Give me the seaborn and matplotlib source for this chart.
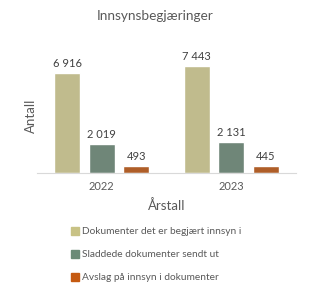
import pandas as pd
import seaborn as sns
import matplotlib.pyplot as plt
from matplotlib.patches import Patch

# data
years = ["2022", "2023"]
series = [
    "Dokumenter det er begjært innsyn i",
    "Sladdede dokumenter sendt ut",
    "Avslag på innsyn i dokumenter",
]
dokumenter = [6916, 7443]
sladdede = [2019, 2131]
avslag = [493, 445]
colors = ["#C8C285", "#6B8A77", "#C55A11"]

df = pd.DataFrame({
    "Årstall": years * 3,
    "serie": [series[0]] * 2 + [series[1]] * 2 + [series[2]] * 2,
    "Antall": dokumenter + sladdede + avslag,
})

sns.set_style("white")
plt.rcParams["font.family"] = ["Lato", "DejaVu Sans"]

fig = plt.figure(figsize=(3.11, 2.95), dpi=100)
ax = fig.add_axes([0.119, 0.414, 0.833, 0.39])

sns.barplot(data=df, x="Årstall", y="Antall", hue="serie", palette=colors,
            width=0.8, gap=0.25, ax=ax, legend=False)

for cont in ax.containers:
    ax.bar_label(cont, labels=[f"{v:,.0f}".replace(",", " ") for v in cont.datavalues],
                 padding=3, fontsize=8, color="#404040")

ax.set_ylim(0, 8000)
ax.set_yticks([])
ax.set_xlim(-0.5, 1.5)
sns.despine(ax=ax, left=True)
ax.spines["bottom"].set_color("#d9d9d9")
ax.tick_params(axis="x", length=0, labelsize=8, labelcolor="#595959", pad=6)
ax.set_xlabel("Årstall", fontsize=9.5, color="#595959", labelpad=5)
ax.set_ylabel("Antall", fontsize=9.5, color="#595959", labelpad=0)

fig.text(0.5, 0.945, "Innsynsbegjæringer", ha="center", va="center",
         fontsize=9.8, color="#595959")

handles = [Patch(color=c) for c in colors]
fig.legend(handles, series, loc="upper left", bbox_to_anchor=(0.215, 0.245),
           frameon=False, fontsize=7.3, labelcolor="#595959",
           handlelength=0.8, handleheight=0.8, handletextpad=0.3,
           labelspacing=1.35, borderaxespad=0)

fig.savefig("out.png", dpi=100)
